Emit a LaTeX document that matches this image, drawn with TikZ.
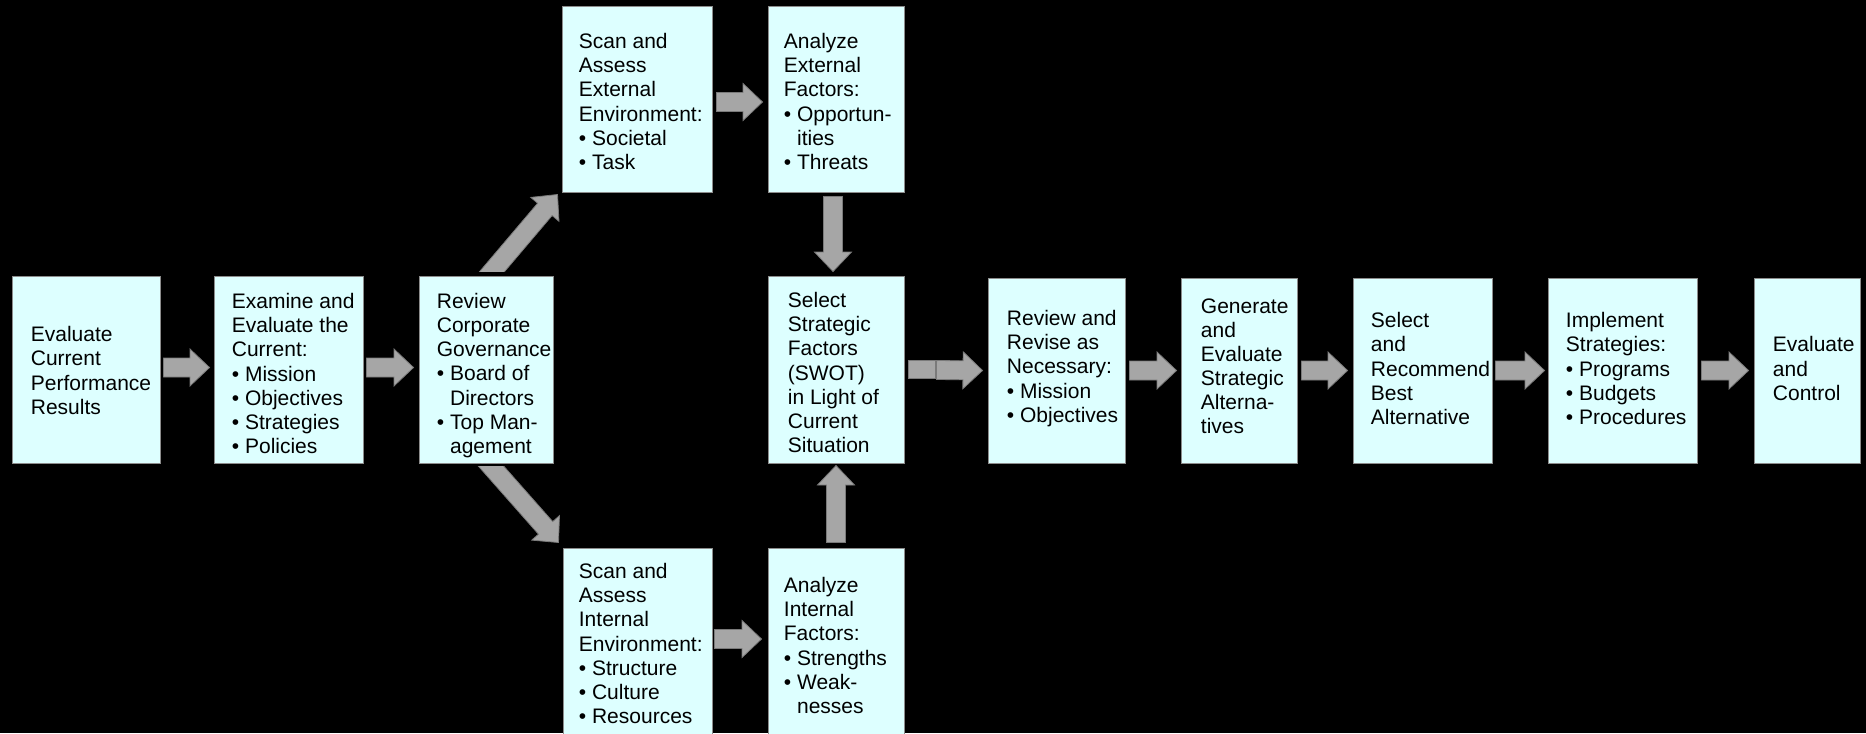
\documentclass[tikz,border=0pt]{standalone}
\usepackage{fontspec}
\setmainfont{Liberation Sans}
\usetikzlibrary{calc,fit}
\definecolor{boxfill}{HTML}{DDFFFF}
\definecolor{boxedge}{HTML}{8C8C8C}
\definecolor{arrfill}{HTML}{A6A6A6}
\definecolor{arredge}{HTML}{7A7A7A}
\newcommand\sw{4.75pt}
\newcommand\hw{9.25pt}
\newcommand\hlen{9.75pt}
\newcommand\blkarrow[2]{%
  \coordinate (ba-s) at (#1);
  \coordinate (ba-t) at (#2);
  \coordinate (ba-b) at ($(ba-t)!\hlen!(ba-s)$);
  \filldraw[arrshape] ($(ba-s)!\sw!90:(ba-t)$) -- ($(ba-b)!\sw!90:(ba-t)$) -- ($(ba-b)!\hw!90:(ba-t)$) -- (ba-t) -- ($(ba-b)!\hw!-90:(ba-t)$) -- ($(ba-b)!\sw!-90:(ba-t)$) -- ($(ba-s)!\sw!-90:(ba-t)$) -- cycle;
}
\newcommand\mkbox[5]{\node[box, fit={(#2,#3) (#4,#5)}] (#1) {};}
\newcommand\ind{\phantom{• }}
\begin{document}
\begin{tikzpicture}[x=0.5pt,y=-0.5pt,
  box/.style={draw=boxedge, fill=boxfill, line width=0.5pt, inner sep=0pt},
  txt/.style={anchor=west, align=left, inner sep=0pt, font=\fontsize{10.5pt}{12.05pt}\selectfont},
  arrshape/.style={fill=arrfill, draw=arredge, line width=0.4pt}]
\fill[black] (0,0) rectangle (1866,733);
\useasboundingbox (0,0) rectangle (1866,733);

% boxes
\mkbox{b1}{12}{276}{160}{463}
\mkbox{b2}{214}{276}{363}{463}
\mkbox{b3}{419}{276}{553}{463}
\mkbox{ext}{562}{7}{712}{192}
\mkbox{aext}{768}{7}{904}{192}
\mkbox{sel}{768}{276}{904}{463}
\mkbox{int}{563}{548}{712}{737}
\mkbox{aint}{768}{548}{904}{737}
\mkbox{rev}{988}{278}{1125}{463}
\mkbox{gen}{1181}{278}{1297}{463}
\mkbox{rec}{1353}{278}{1492}{463}
\mkbox{imp}{1548}{278}{1697}{463}
\mkbox{evc}{1754}{278}{1860}{463}

% texts
\node[txt] (b1t) at ($(b1.west)+(19,1)$) {Evaluate\\Current\\Performance\\Results};
\node[txt] (b2t) at ($(b2.west)+(18,4)$) {Examine and\\Evaluate the\\Current:\\• Mission\\• Objectives\\• Strategies\\• Policies};
\node[txt] (b3t) at ($(b3.west)+(18,6)$) {Review\\Corporate\\Governance\\• Board of\\\ind Directors\\• Top Man-\\\ind agement};
\node[txt] (extt) at ($(ext.west)+(17,2)$) {Scan and\\Assess\\External\\Environment:\\• Societal\\• Task};
\node[txt] (aextt) at ($(aext.west)+(16,2)$) {Analyze\\External\\Factors:\\• Opportun-\\\ind ities\\• Threats};
\node[txt] (selt) at ($(sel.west)+(20,3)$) {Select\\Strategic\\Factors\\(SWOT)\\in Light of\\Current\\Situation};
\node[txt] (intt) at ($(int.west)+(16,1)$) {Scan and\\Assess\\Internal\\Environment:\\• Structure\\• Culture\\• Resources};
\node[txt] (aintt) at ($(aint.west)+(16,3)$) {Analyze\\Internal\\Factors:\\• Strengths\\• Weak-\\\ind nesses};
\node[txt] (revt) at ($(rev.west)+(19,-2)$) {Review and\\Revise as\\Necessary:\\• Mission\\• Objectives};
\node[txt] (gent) at ($(gen.west)+(20,-4)$) {Generate\\and\\Evaluate\\Strategic\\Alterna-\\tives};
\node[txt] (rect) at ($(rec.west)+(18,-2)$) {Select\\and\\Recommend\\Best\\Alternative};
\node[txt] (impt) at ($(imp.west)+(18,-2)$) {Implement\\Strategies:\\• Programs\\• Budgets\\• Procedures};
\node[txt] (evct) at ($(evc.west)+(19,-2)$) {Evaluate\\and\\Control};

% arrows
\blkarrow{$(b1.east)+(3,-2)$}{$(b2.west)+(-4,-2)$}
\blkarrow{$(b2.east)+(3,-2)$}{$(b3.west)+(-5,-2)$}
\blkarrow{$(ext.east)+(4,2.5)$}{$(aext.west)+(-5,2.5)$}
\blkarrow{$(int.north east)+(2,91.5)$}{$(aint.north west)+(-6,91.5)$}
\filldraw[arrshape] ($(sel.east)+(4,-9.5)$) rectangle ($(sel.east)+(31,8.5)$);
\blkarrow{$(sel.east)+(32,0.5)$}{$(rev.west)+(-5,0)$}
\blkarrow{$(rev.east)+(4,0)$}{$(gen.west)+(-4,0)$}
\blkarrow{$(gen.east)+(4,0)$}{$(rec.west)+(-5,0)$}
\blkarrow{$(rec.east)+(3,0)$}{$(imp.west)+(-3,0)$}
\blkarrow{$(imp.east)+(4,0)$}{$(evc.west)+(-5,0)$}
\blkarrow{$(aext.south)+(-3,4)$}{$(sel.north)+(-3,-4)$}
\blkarrow{$(aint.north)+(0,-5)$}{$(sel.south)+(0,2)$}

% diagonal arrows with horizontally cut tails
\coordinate (u0) at ($(b3.north)+(7,-5)$);
\coordinate (u1) at ($(ext.south west)+(-4,2)$);
\begin{scope}
\clip (0,0) rectangle (1866,271);
\blkarrow{$(u1)!1.3!(u0)$}{u1}
\end{scope}
\coordinate (d0) at ($(b3.south)+(6,3.7)$);
\coordinate (d1) at ($(int.north west)+(-4,-5)$);
\begin{scope}
\clip (0,466.7) rectangle (1866,733);
\blkarrow{$(d1)!1.3!(d0)$}{d1}
\end{scope}
\end{tikzpicture}
\end{document}
